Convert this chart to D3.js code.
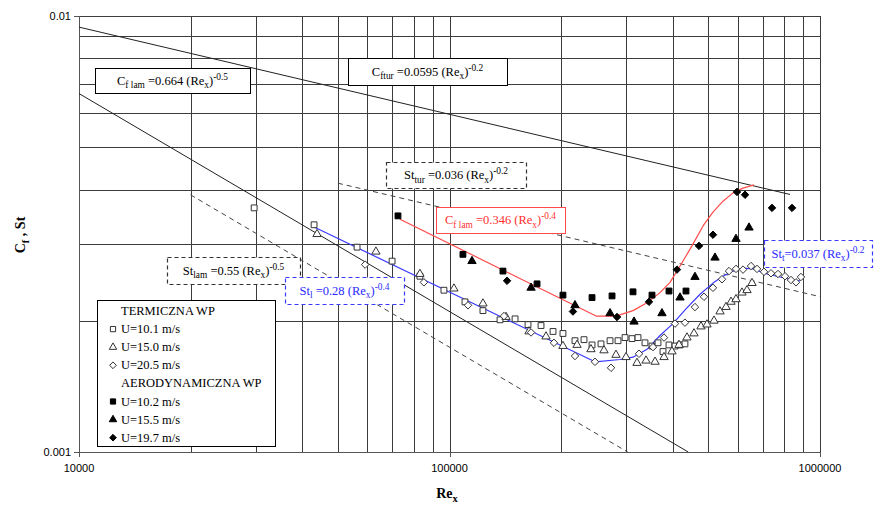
<!DOCTYPE html>
<html><head><meta charset="utf-8">
<script src="https://cdn.jsdelivr.net/npm/d3@7"></script>
<style>body{margin:0;background:#fff} .serif{font-family:"Liberation Serif","DejaVu Serif",serif}</style>
</head><body>
<svg id="chart" width="874" height="509"></svg>
<script>
// ---- data: Re_x and Cf / St values ----
// TERMICZNA WP (St)
const termU101 = [[29700,0.00363],[43100,0.00332],[56300,0.00295],[70000,0.00274],[83200,0.00253],[96600,0.00235],[110100,0.00221],[123100,0.00211],[136900,0.00201],[150300,0.00202],[162900,0.00196],[176600,0.00195],[190300,0.00189],[202400,0.00187],[218100,0.00180],[230700,0.00181],[242500,0.00176],[256400,0.00177],[271200,0.00180],[285000,0.00180],[297700,0.00183],[310900,0.00182],[322700,0.00183],[337000,0.00178],[352000,0.00175],[365400,0.00178],[376900,0.00170],[391200,0.00176],[406100,0.00175],[419000,0.00176],[432000,0.00177]];
const termU150 = [[43900,0.00316],[63300,0.00288],[83200,0.00256],[102800,0.00237],[123100,0.00219],[142100,0.00204],[163900,0.00189],[182200,0.00184],[202400,0.00175],[220900,0.00176],[240900,0.00172],[261200,0.00171],[281400,0.00167],[299500,0.00165],[320700,0.00160],[339200,0.00162],[358700,0.00161],[379300,0.00165],[398500,0.00170],[416400,0.00176],[437500,0.00183],[457000,0.00187],[477300,0.00194],[495500,0.00196],[517500,0.00200],[537200,0.00210],[557600,0.00215],[575200,0.00221],[593300,0.00224],[615800,0.00232],[635300,0.00235],[655400,0.00244]];
const termU205 = [[59200,0.00269],[85300,0.00245],[112200,0.00217],[140300,0.00205],[166000,0.00188],[191400,0.00178],[218100,0.00166],[247000,0.00161],[272900,0.00156],[324700,0.00168],[354200,0.00174],[379300,0.00183],[406100,0.00197],[432000,0.00198],[459800,0.00215],[486300,0.00227],[514200,0.00238],[543800,0.00249],[568000,0.00260],[593300,0.00263],[619700,0.00262],[651400,0.00267],[676100,0.00263],[706200,0.00259],[737500,0.00257],[770300,0.00256],[804600,0.00253],[835200,0.00248],[861500,0.00245],[888400,0.00252]];
// AERODYNAMICZNA WP (Cf)
const aeroU102 = [[72600,0.00348],[108700,0.00284],[139400,0.00260],[172300,0.00243],[202400,0.00229],[242500,0.00226],[274600,0.00228],[312800,0.00233],[352000,0.00229],[391200,0.00234],[434800,0.00234]];
const aeroU155 = [[115000,0.00274],[166000,0.00238],[218100,0.00217],[271200,0.00208],[314800,0.00199],[374500,0.00208],[419000,0.00226],[459800,0.00252],[520700,0.00279],[593300,0.00308],[643300,0.00327]];
const aeroU197 = [[143000,0.00247],[215400,0.00210],[283200,0.00204],[345500,0.00221],[411100,0.00262],[471400,0.00297],[514200,0.00315],[597000,0.00395],[627600,0.00389],[742100,0.00363],[840400,0.00363]];
// fitted trend curves
const cfFit = [[73500,0.00342],[248600,0.00205],[281400,0.00205],[312800,0.00211],[341300,0.00220],[370000,0.00232],[393700,0.00245],[419000,0.00267],[451300,0.00297],[483300,0.00330],[514200,0.00355],[547200,0.00376],[582300,0.00393],[619700,0.00403],[663700,0.00410]];
const stFit = [[43100,0.00328],[247000,0.00161],[288500,0.00163],[312800,0.00165],[341300,0.00172],[370000,0.00185],[401000,0.00197],[434800,0.00213],[474500,0.00230],[514200,0.00244],[547200,0.00253],[582300,0.00260],[619700,0.00264],[659600,0.00263],[719400,0.00256],[779800,0.00252],[845600,0.00248],[883100,0.00247]];
// correlations: coefficient, exponent, Re range
const cfLam = {c:0.664, p:-0.5, range:[1e4, 4.41e5]};
const cfTur = {c:0.0595, p:-0.2, range:[1e4, 8.3e5]};
const stLam = {c:0.55, p:-0.5, range:[2e4, 3.03e5]};
const stTur = {c:0.036, p:-0.2, range:[5e4, 1e6]};
// axis tick labels
const xTickLabels = [10000, 100000, 1000000];
const yTickLabels = [0.01, 0.001];

const svg = d3.select("#chart");
const sans = "'Liberation Sans',Arial,sans-serif";
const x = d3.scaleLog().domain([1e4, 1e6]).range([79, 820]);
const y = d3.scaleLog().domain([0.001, 0.01]).range([452, 16]);

svg.append("defs").append("clipPath").attr("id","plot")
  .append("rect").attr("x",79).attr("y",16).attr("width",741).attr("height",436);

// grid
const grid = svg.append("g").attr("stroke","#3c3c3c").attr("stroke-width",1).attr("shape-rendering","crispEdges");
grid.selectAll(".gx").data(x.ticks()).join("line")
  .attr("x1",d=>Math.round(x(d))+0.5).attr("x2",d=>Math.round(x(d))+0.5).attr("y1",16).attr("y2",452);
grid.selectAll(".gy").data(y.ticks()).join("line")
  .attr("y1",d=>Math.round(y(d))+0.5).attr("y2",d=>Math.round(y(d))+0.5).attr("x1",79).attr("x2",820);

// axes lines and ticks
const ax = svg.append("g").attr("stroke","#555").attr("shape-rendering","crispEdges");
ax.append("line").attr("x1",79.5).attr("x2",79.5).attr("y1",16).attr("y2",452);
ax.append("line").attr("x1",79).attr("x2",820).attr("y1",452.5).attr("y2",452.5);
ax.selectAll(".ty").data(yTickLabels).join("line").attr("x1",74).attr("x2",79).attr("y1",d=>Math.round(y(d))+0.5).attr("y2",d=>Math.round(y(d))+0.5);
ax.selectAll(".tx").data(xTickLabels).join("line").attr("y1",452).attr("y2",457).attr("x1",d=>Math.round(x(d))+0.5).attr("x2",d=>Math.round(x(d))+0.5);

svg.selectAll(".ylab").data(yTickLabels).join("text")
  .attr("x",71).attr("y",d=>y(d)+4).attr("text-anchor","end")
  .attr("font-family",sans).attr("font-size",11).attr("fill","#000").text(d=>String(d));
svg.selectAll(".xlab").data(xTickLabels).join("text")
  .attr("x",d=>x(d)).attr("y",472).attr("text-anchor","middle")
  .attr("font-family",sans).attr("font-size",11).attr("fill","#000").text(d=>String(d));

// rich text helper (sub / superscripts)
function rich(g, px, py, parts, size, color, anchor, weight) {
  const t = g.append("text").attr("class","serif").attr("x",px).attr("y",py).attr("text-anchor",anchor||"middle")
    .attr("font-size",size).attr("fill",color).attr("font-weight",weight||"normal");
  let shift = 0;
  parts.forEach(p => {
    const s = p.sub ? size*0.3 : p.sup ? -size*0.4 : 0;
    const sp = t.append("tspan").attr("dy", s - shift).text(p.t);
    if (p.sub || p.sup) sp.attr("font-size", size*0.75);
    shift = s;
  });
  return t;
}

// correlation lines
const plot = svg.append("g").attr("clip-path","url(#plot)");
const line = d3.line().x(d=>x(d[0])).y(d=>y(d[1]));
function corr(o){ return o.range.map(r => [r, o.c*Math.pow(r,o.p)]); }
plot.append("path").attr("d",line(corr(cfTur))).attr("fill","none").attr("stroke","#222").attr("stroke-width",1);
plot.append("path").attr("d",line(corr(cfLam))).attr("fill","none").attr("stroke","#222").attr("stroke-width",1);
plot.append("path").attr("d",line(corr(stLam))).attr("fill","none").attr("stroke","#444").attr("stroke-width",1).attr("stroke-dasharray","5,4");
plot.append("path").attr("d",line(corr(stTur))).attr("fill","none").attr("stroke","#444").attr("stroke-width",1).attr("stroke-dasharray","5,4");

// fitted curves
plot.append("path").attr("d",line(cfFit)).attr("fill","none").attr("stroke","#ff4a4a").attr("stroke-width",1.2).attr("stroke-linejoin","round");
plot.append("path").attr("d",line(stFit)).attr("fill","none").attr("stroke","#3a3aff").attr("stroke-width",1.2).attr("stroke-linejoin","round");

// markers
const rhombus = { draw(ctx, size){ const r = Math.sqrt(size/2); ctx.moveTo(0,-r); ctx.lineTo(r,0); ctx.lineTo(0,r); ctx.lineTo(-r,0); ctx.closePath(); } };
const shapes = { sq: d3.symbolSquare, tri: d3.symbolTriangle, dia: rhombus };
const sizes = { sq: 34, tri: 30, dia: 28 };
function markers(data, shape, filled) {
  svg.append("g").selectAll("path").data(data).join("path")
    .attr("d", d3.symbol().type(shapes[shape]).size(sizes[shape])())
    .attr("transform", d=>`translate(${x(d[0])},${y(d[1])})`)
    .attr("fill", filled ? "#000" : "#fff")
    .attr("stroke", filled ? "#000" : "#333").attr("stroke-width",1);
}
markers(termU101,"sq",false);
markers(termU150,"tri",false);
markers(termU205,"dia",false);
markers(aeroU102,"sq",true);
markers(aeroU155,"tri",true);
markers(aeroU197,"dia",true);

// annotation boxes
const ann = svg.append("g");
function box(x0,y0,w,h,stroke,dash,parts,color){
  ann.append("rect").attr("x",x0+0.5).attr("y",y0+0.5).attr("width",w).attr("height",h)
    .attr("fill","#fff").attr("stroke",stroke).attr("stroke-width",dash?1.2:1).attr("stroke-dasharray",dash||null);
  rich(ann, x0+w/2, y0+h/2+4, parts, 12.5, color);
}
box(95,68,155,25,"#000",null,[{t:"C"},{t:"f lam",sub:true},{t:" =0.664 (Re"},{t:"x",sub:true},{t:")"},{t:"-0.5",sup:true}],"#000");
box(348,58,159,27,"#000",null,[{t:"C"},{t:"ftur",sub:true},{t:" =0.0595 (Re"},{t:"x",sub:true},{t:")"},{t:"-0.2",sup:true}],"#000");
box(386,162,140,26,"#333","4,3",[{t:"St"},{t:"tur",sub:true},{t:" =0.036 (Re"},{t:"x",sub:true},{t:")"},{t:"-0.2",sup:true}],"#000");
box(436,207,129,26,"#ff4a4a",null,[{t:"C"},{t:"f lam",sub:true},{t:" =0.346 (Re"},{t:"x",sub:true},{t:")"},{t:"-0.4",sup:true}],"#ff3030");
box(167,257,133,27,"#333","4,3",[{t:"St"},{t:"lam",sub:true},{t:" =0.55 (Re"},{t:"x",sub:true},{t:")"},{t:"-0.5",sup:true}],"#000");
box(285,277,119,27,"#3a3aff","4,3",[{t:"St"},{t:"l",sub:true},{t:" =0.28 (Re"},{t:"x",sub:true},{t:")"},{t:"-0.4",sup:true}],"#2a2aff");
box(764,240,108,27,"#3a3aff","4,3",[{t:"St"},{t:"t",sub:true},{t:"=0.037 (Re"},{t:"x",sub:true},{t:")"},{t:"-0.2",sup:true}],"#2a2aff");

// legend
const lg = svg.append("g");
lg.append("rect").attr("x",97.5).attr("y",300.5).attr("width",178).attr("height",146).attr("fill","#fff").attr("stroke","#000");
const legendRows = [
  {label:"TERMICZNA WP"},
  {label:"U=10.1 m/s", shape:"sq", filled:false},
  {label:"U=15.0 m/s", shape:"tri", filled:false},
  {label:"U=20.5 m/s", shape:"dia", filled:false},
  {label:"AERODYNAMICZNA WP"},
  {label:"U=10.2 m/s", shape:"sq", filled:true},
  {label:"U=15.5 m/s", shape:"tri", filled:true},
  {label:"U=19.7 m/s", shape:"dia", filled:true}
];
legendRows.forEach((r,i) => {
  const cy = 311 + i*18.1;
  if (r.shape) {
    lg.append("path").attr("d", d3.symbol().type(shapes[r.shape]).size(sizes[r.shape]*0.8)())
      .attr("transform",`translate(113,${cy})`).attr("fill",r.filled?"#000":"#fff").attr("stroke",r.filled?"#000":"#333");
  }
  lg.append("text").attr("class","serif").attr("x",121).attr("y",cy+4).attr("font-size",12.5).attr("fill","#000").text(r.label);
});

// axis titles
rich(svg, 447, 498, [{t:"Re"},{t:"x",sub:true}], 14, "#000", "middle", "bold");
const yt = svg.append("g").attr("transform","translate(25,235) rotate(-90)");
rich(yt, 0, 0, [{t:"C"},{t:"f",sub:true},{t:" , St"}], 14, "#000", "middle", "bold");
</script>
</body></html>
